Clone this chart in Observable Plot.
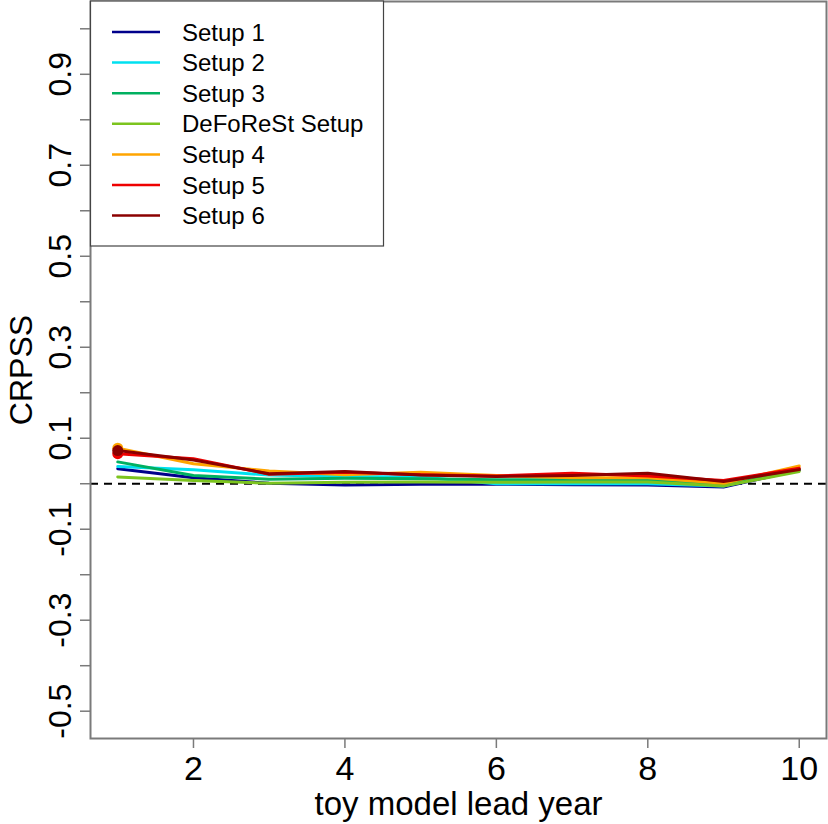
<!DOCTYPE html>
<html><head><meta charset="utf-8">
<script src="https://cdn.jsdelivr.net/npm/d3@7"></script>
<script src="https://cdn.jsdelivr.net/npm/@observablehq/plot@0.6"></script>
<style>
body{margin:0;background:#fff}
svg{font-family:"Liberation Sans",Arial,Helvetica,sans-serif;background:#fff}
</style>
</head><body><div id="chart"></div>
<script>
const leadYears = [1, 2, 3, 4, 5, 6, 7, 8, 9, 10];
const seriesNames = ["Setup 1", "Setup 2", "Setup 3", "DeFoReSt Setup", "Setup 4", "Setup 5", "Setup 6"];
const seriesColors = ["#00008B", "#00E0F0", "#00B060", "#7CC41E", "#FFA500", "#EE0000", "#8B0000"];
const setup1   = [0.033, 0.013, 0.001, -0.003, -0.001, -0.001, -0.002, -0.003, -0.007, 0.030];
const setup2   = [0.038, 0.031, 0.019, 0.016, 0.015, 0.000, 0.000, 0.000, -0.005, 0.031];
const setup3   = [0.048, 0.018, 0.010, 0.012, 0.011, 0.009, 0.009, 0.008, -0.003, 0.031];
const deforest = [0.015, 0.007, 0.001, 0.003, 0.004, 0.003, 0.004, 0.004, -0.005, 0.027];
const setup4   = [0.078, 0.044, 0.028, 0.020, 0.025, 0.018, 0.013, 0.013, 0.001, 0.039];
const setup5   = [0.066, 0.055, 0.021, 0.025, 0.020, 0.017, 0.023, 0.017, 0.007, 0.034];
const setup6   = [0.073, 0.052, 0.022, 0.027, 0.019, 0.016, 0.018, 0.023, 0.005, 0.031];
const seriesValues = [setup1, setup2, setup3, deforest, setup4, setup5, setup6];
const firstPointMarked = [false, false, false, false, true, true, true];
const yTickValues = [-0.5, -0.4, -0.3, -0.2, -0.1, 0, 0.1, 0.2, 0.3, 0.4, 0.5, 0.6, 0.7, 0.8, 0.9, 1.0];
const yLabelValues = [-0.5, -0.3, -0.1, 0.1, 0.3, 0.5, 0.7, 0.9];
const xTickValues = [2, 4, 6, 8, 10];

const rows = [];
seriesValues.forEach((vals, i) => vals.forEach((v, j) => rows.push({series: seriesNames[i], x: leadYears[j], y: v})));
const dots = [];
seriesValues.forEach((vals, i) => { if (firstPointMarked[i]) dots.push({series: seriesNames[i], x: leadYears[0], y: vals[0]}); });

const frameGray = "#7a7a7a";
const plot = Plot.plot({
  width: 828, height: 824,
  marginLeft: 90, marginRight: 2, marginTop: 1, marginBottom: 86,
  x: {domain: [0.64, 10.36]},
  y: {domain: [-0.56, 1.06]},
  color: {domain: seriesNames, range: seriesColors},
  style: {fontFamily: "Liberation Sans, Arial, sans-serif", background: "#fff"},
  marks: [
    Plot.ruleY([0], {stroke: "black", strokeWidth: 2, strokeDasharray: "8,6"}),
    Plot.line(rows, {x: "x", y: "y", z: "series", stroke: "series", strokeWidth: 3}),
    Plot.dot(dots, {x: "x", y: "y", fill: "series", r: 5.5}),
    Plot.frame({stroke: frameGray, strokeWidth: 2}),
    Plot.axisX({ticks: xTickValues, tickSize: 10, tickPadding: 7, stroke: frameGray, strokeWidth: 1.5, fontSize: 34, label: null, tickFormat: d => String(d)}),
    Plot.axisY({ticks: yTickValues, tickSize: 10, stroke: frameGray, strokeWidth: 1.5, tickFormat: () => "", label: null}),
    Plot.text(yLabelValues, {y: d => d, text: d => d.toFixed(1), frameAnchor: "left", textAnchor: "middle", lineAnchor: "middle", dx: -30, rotate: -90, fontSize: 32, fill: "black"}),
    Plot.text(["CRPSS"], {frameAnchor: "left", textAnchor: "middle", lineAnchor: "middle", dx: -69, rotate: -90, fontSize: 32, fill: "black"}),
    Plot.text(["toy model lead year"], {frameAnchor: "bottom", textAnchor: "middle", lineAnchor: "middle", dy: 66, fontSize: 33, fill: "black"})
  ]
});
document.getElementById("chart").appendChild(plot);

// legend
const svg = d3.select(plot);
const lg = svg.append("g").attr("text-anchor", "start");
lg.append("rect").attr("x", 90.5).attr("y", 1).attr("width", 293).attr("height", 245)
  .attr("fill", "white").attr("stroke", "#444").attr("stroke-width", 1.2);
seriesNames.forEach((name, i) => {
  const yy = 32 + i * 30.6;
  lg.append("line").attr("x1", 112).attr("x2", 160).attr("y1", yy).attr("y2", yy)
    .attr("stroke", seriesColors[i]).attr("stroke-width", 2.5);
  lg.append("text").attr("x", 182).attr("y", yy).attr("dy", "0.36em")
    .attr("text-anchor", "start").attr("font-size", 24).attr("fill", "black").text(name);
});
</script>
</body></html>
